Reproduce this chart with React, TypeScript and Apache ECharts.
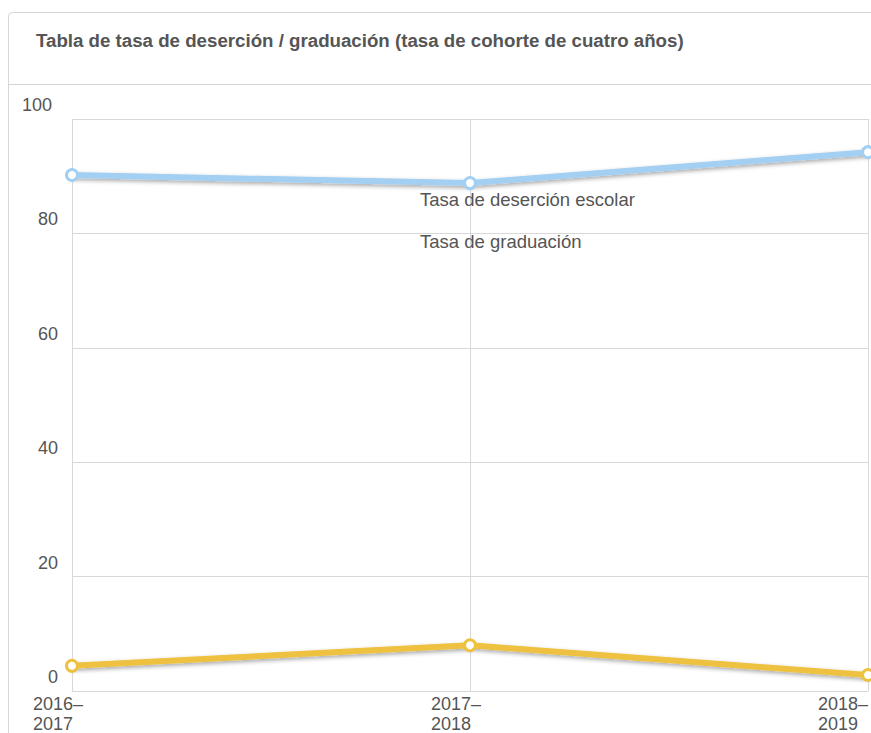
import React, { useEffect, useRef } from "react";
import * as echarts from "echarts";

const categories = ["2016–2017", "2017–2018", "2018–2019"];
const dropoutRate = [4.4, 8.0, 2.8];
const graduationRate = [90.2, 88.8, 94.2];
const seriesNames = ["Tasa de deserción escolar", "Tasa de graduación"];
const yTicks = { min: 0, max: 100, interval: 20 };
const title = "Tabla de tasa de deserción / graduación (tasa de cohorte de cuatro años)";

const FONT = "'Liberation Sans', Arial, Helvetica, sans-serif";

export default function App() {
  const ref = useRef<HTMLDivElement>(null);
  useEffect(() => {
    if (!ref.current) return;
    const chart = echarts.init(ref.current, undefined, { renderer: "svg" });
    const lineShadow = {
      shadowColor: "rgba(0,0,0,0.35)",
      shadowBlur: 4,
      shadowOffsetX: 1,
      shadowOffsetY: 2,
    };
    chart.setOption({
      animation: false,
      textStyle: { fontFamily: FONT },
      title: {
        text: title,
        left: 31,
        top: 26,
        textStyle: { fontFamily: FONT, fontSize: 18.7, fontWeight: "bold", color: "#555" },
      },
      graphic: [
        {
          type: "rect",
          shape: { x: 8.5, y: 12.5, width: 1000, height: 900, r: 4 },
          style: { fill: "none", stroke: "#d6d6d6", lineWidth: 1 },
          silent: true,
          z: -10,
        },
        {
          type: "line",
          shape: { x1: 9, y1: 84.5, x2: 871, y2: 84.5 },
          style: { stroke: "#d6d6d6", lineWidth: 1 },
          silent: true,
          z: -10,
        },
      ],
      legend: {
        data: seriesNames,
        orient: "vertical",
        left: 410,
        top: 184,
        icon: "none",
        itemWidth: 0,
        itemHeight: 0,
        itemGap: 22,
        selectedMode: false,
        textStyle: { fontFamily: FONT, fontSize: 18.5, color: "#555", lineHeight: 20 },
      },
      grid: { left: 72, right: 2, top: 119, bottom: 42, containLabel: false },
      xAxis: {
        type: "category",
        boundaryGap: false,
        data: categories.map((c, i) =>
          i === categories.length - 1 ? { value: c, textStyle: { align: "right" } } : c
        ),
        axisLine: { show: true, lineStyle: { color: "#d8d8d8", width: 1 } },
        axisTick: { show: false },
        splitLine: { show: true, lineStyle: { color: "#d8d8d8", width: 1 } },
        axisLabel: {
          interval: 0,
          hideOverlap: false,
          showMinLabel: true,
          showMaxLabel: true,
          margin: 3,
          align: "center",
          formatter: (v: string, i: number) => {
            const parts = v.split("–");
            const tok = i === categories.length - 1 ? "b" : "a";
            return `{${tok}|${parts[0]}–}\n{${tok}|${parts[1]}}`;
          },
          rich: {
            a: { width: 78, align: "left", fontSize: 18, lineHeight: 20, color: "#555", fontFamily: FONT },
            b: { align: "left", fontSize: 18, lineHeight: 20, color: "#555", fontFamily: FONT },
          },
        },
      },
      yAxis: {
        type: "value",
        min: yTicks.min,
        max: yTicks.max,
        interval: yTicks.interval,
        axisLine: { show: false },
        axisTick: { show: false },
        splitLine: { show: true, lineStyle: { color: "#d8d8d8", width: 1 } },
        axisLabel: {
          margin: 14,
          align: "right",
          verticalAlign: "bottom",
          padding: [0, 0, 5, 0],
          fontSize: 18,
          color: "#555",
          fontFamily: FONT,
          formatter: (v: number) => (v === 100 ? `{h|${v}}` : `${v}`),
          rich: {
            h: { fontSize: 18, color: "#555", fontFamily: FONT, padding: [0, 6, 0, 0] },
          },
        },
      },
      series: [
        {
          name: seriesNames[0],
          type: "line",
          data: dropoutRate,
          color: "#eec23f",
          lineStyle: { width: 6, color: "#eec23f", ...lineShadow },
          symbol: "circle",
          symbolSize: 11,
          itemStyle: { color: "#fff", borderColor: "#eec23f", borderWidth: 3 },
          z: 3,
        },
        {
          name: seriesNames[1],
          type: "line",
          data: graduationRate,
          color: "#a3cff2",
          lineStyle: { width: 6, color: "#a3cff2", ...lineShadow },
          symbol: "circle",
          symbolSize: 11,
          itemStyle: { color: "#fff", borderColor: "#a3cff2", borderWidth: 3 },
          z: 3,
        },
      ],
    });
    return () => chart.dispose();
  }, []);
  return (
    <div style={{ position: "fixed", left: 0, top: 0, width: 871, height: 733, overflow: "hidden", background: "#fff" }}>
      <div ref={ref} style={{ width: 871, height: 733 }} />
    </div>
  );
}
